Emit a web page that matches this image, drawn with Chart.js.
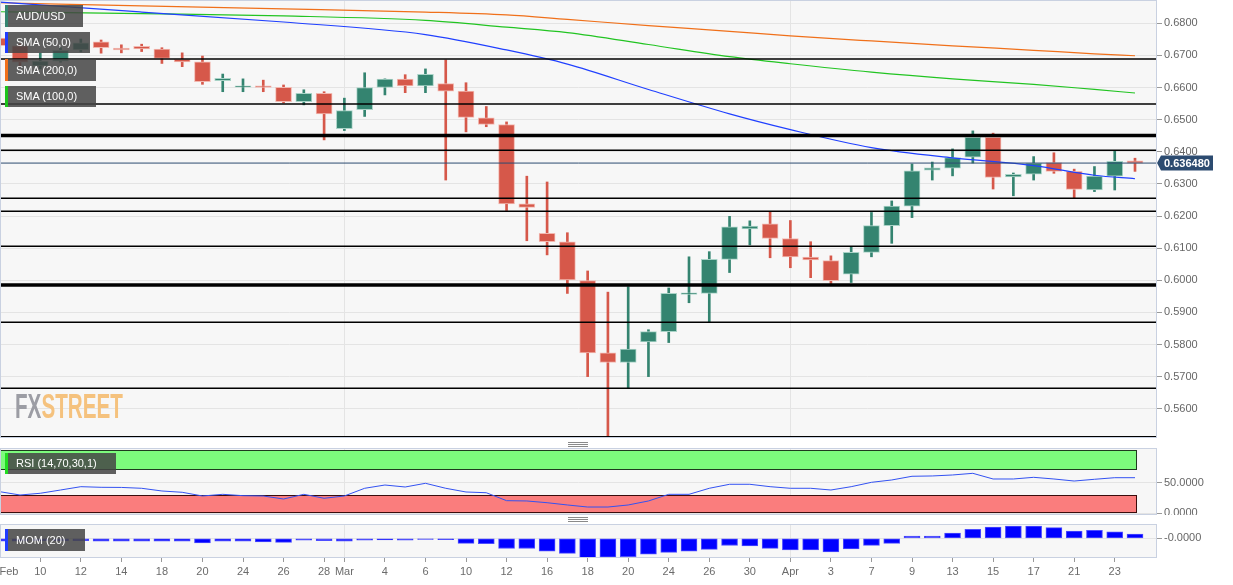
<!DOCTYPE html>
<html lang="en">
<head>
  <meta charset="UTF-8" />
  <title>AUD/USD daily</title>
  <script src="https://cdn.jsdelivr.net/npm/chart.js"></script>
  <style>
    body {
      margin: 0;
      width: 1233px;
      height: 585px;
      overflow: hidden;
      position: relative;
      background: #fff;
      font-family: 'Liberation Sans', Arial, sans-serif;
    }
    canvas { position: absolute; left: 0; }
    #main { top: 0; }
    #rsi { top: 448px; }
    #mom { top: 524px; }

    .chip {
      position: absolute;
      left: 5px;
      height: 21px;
      line-height: 21px;
      padding-left: 11px;
      box-sizing: border-box;
      background: rgba(68, 68, 68, 0.85);
      color: #fff;
      font-size: 11px;
      white-space: nowrap;
    }
    .chip i { position: absolute; left: 0; top: 0; bottom: 0; width: 3px; }

    .logo {
      position: absolute;
      left: 15px;
      top: 388px;
      font-size: 35px;
      line-height: 35px;
      font-weight: bold;
      transform: scaleX(0.59);
      transform-origin: left top;
      letter-spacing: 0;
    }
    .logo .fx { color: #9c9da4; }
    .logo .st { color: #f5c27e; }

    .grip {
      position: absolute;
      left: 568px;
      width: 20px;
      height: 3px;
      border-top: 1px solid #8a8a8a;
      border-bottom: 1px solid #8a8a8a;
    }
    .grip::after {
      content: '';
      position: absolute;
      left: 0; right: 0; top: 1px;
      border-top: 1px solid #8a8a8a;
    }
  </style>
</head>
<body>
  <canvas id="main" width="1233" height="438"></canvas>
  <canvas id="rsi" width="1233" height="67"></canvas>
  <canvas id="mom" width="1233" height="61"></canvas>

  <div class="chip" style="top:5px;width:78px;height:22px;line-height:22px"><i style="background:#348470"></i>AUD/USD</div>
  <div class="chip" style="top:32px;width:85px"><i style="background:#1f3cff"></i>SMA (50,0)</div>
  <div class="chip" style="top:59px;width:91px;height:22px;line-height:22px"><i style="background:#f0701a"></i>SMA (200,0)</div>
  <div class="chip" style="top:86px;width:91px"><i style="background:#1cc41c"></i>SMA (100,0)</div>
  <div class="chip" style="top:453px;width:111px"><i style="background:#22dd22"></i>RSI (14,70,30,1)</div>
  <div class="chip" style="top:529px;width:80px;height:22px;line-height:22px"><i style="background:#1f3cff"></i>MOM (20)</div>

  <div class="logo"><span class="fx">FX</span><span class="st">STREET</span></div>
  <div class="grip" style="top:442px"></div>
  <div class="grip" style="top:517px"></div>

  <script>
    // trading days shown
    const dates = [
      'Feb 6','Feb 7','Feb 10','Feb 11','Feb 12','Feb 13','Feb 14','Feb 17','Feb 18','Feb 19',
      'Feb 20','Feb 21','Feb 24','Feb 25','Feb 26','Feb 27','Feb 28','Mar 2','Mar 3','Mar 4',
      'Mar 5','Mar 6','Mar 9','Mar 10','Mar 11','Mar 12','Mar 13','Mar 16','Mar 17','Mar 18',
      'Mar 19','Mar 20','Mar 23','Mar 24','Mar 25','Mar 26','Mar 27','Mar 30','Mar 31','Apr 1',
      'Apr 2','Apr 3','Apr 6','Apr 7','Apr 8','Apr 9','Apr 10','Apr 13','Apr 14','Apr 15',
      'Apr 16','Apr 17','Apr 20','Apr 21','Apr 22','Apr 23','Apr 24'
    ];

    const open = [
      .6754,.6730,.6667,.6682,.6717,.6742,.6723,.6728,.6720,.6688,
      .6680,.6621,.6601,.6605,.6601,.6556,.6582,.6472,.6531,.6600,
      .6626,.6605,.6612,.6589,.6506,.6485,.6238,.6146,.6120,.5999,
      .5774,.5744,.5808,.5840,.5956,.5959,.6065,.6160,.6176,.6130,
      .6072,.6061,.6019,.6087,.6170,.6231,.6343,.6349,.6383,.6445,
      .6322,.6330,.6366,.6339,.6281,.6324,.6372
    ];
    const high = [
      .6764,.6736,.6707,.6724,.6751,.6748,.6733,.6735,.6724,.6708,
      .6698,.6642,.6627,.6623,.6608,.6593,.6587,.6567,.6646,.6627,
      .6640,.6658,.6686,.6615,.6541,.6493,.6324,.6306,.6148,.6029,
      .5963,.5980,.5846,.5976,.6073,.6089,.6199,.6185,.6214,.6186,
      .6120,.6076,.6104,.6211,.6247,.6362,.6368,.6409,.6465,.6458,
      .6334,.6385,.6397,.6346,.6354,.6404,.6380
    ];
    const low = [
      .6724,.6667,.6658,.6679,.6711,.6707,.6708,.6712,.6675,.6665,
      .6610,.6587,.6587,.6587,.6552,.6546,.6437,.6466,.6510,.6577,
      .6584,.6584,.6312,.6462,.6478,.6217,.6123,.6079,.5959,.5700,
      .5508,.5664,.5700,.5806,.5930,.5870,.6024,.6110,.6070,.6039,
      .6008,.5988,.5993,.6073,.6115,.6195,.6312,.6325,.6365,.6284,
      .6263,.6312,.6333,.6255,.6276,.6281,.6339
    ];
    const close = [
      .6730,.6679,.6682,.6716,.6739,.6724,.6717,.6720,.6691,.6680,
      .6618,.6629,.6605,.6600,.6556,.6582,.6518,.6528,.6600,.6626,
      .6605,.6641,.6589,.6507,.6485,.6238,.6227,.6120,.6001,.5774,
      .5744,.5786,.5840,.5959,.5961,.6065,.6166,.6169,.6130,.6073,
      .6063,.5999,.6087,.6170,.6231,.6341,.6350,.6382,.6445,.6320,
      .6330,.6365,.6339,.6283,.6324,.6370,.63648
    ];

    // moving averages, read at these day indexes
    const smaAt  = [0, 7, 14, 21, 25, 28, 32, 36, 39, 43, 47, 51, 54, 56];
    const sma50  = [.6866,.6835,.6804,.6765,.6717,.6673,.6594,.6518,.6469,.6413,.6381,.6357,.6327,.6316];
    const sma100 = [.6836,.6830,.6823,.6809,.6788,.6771,.6734,.6696,.6674,.6648,.6627,.6610,.6594,.6583];
    const sma200 = [.6864,.6854,.6845,.6835,.6826,.6812,.6793,.6775,.6761,.6745,.6730,.6716,.6705,.6699];

    const rsi = [
      35.1,29.7,32.5,37.8,43.2,42.2,42.0,40.6,36.2,34.1,
      28.1,30.8,28.6,28.1,23.2,30.8,24.4,28.1,40.6,45.9,
      42.7,48.7,40.6,34.6,33.4,20.5,20.0,17.2,13.5,10.2,
      10.2,13.5,20.0,30.8,30.8,40.6,47.1,47.1,43.2,40.6,
      40.6,37.8,43.2,50.3,54.1,60.1,60.6,62.2,64.9,55.7,
      55.7,58.4,55.7,52.4,55.2,57.8,57.8
    ];
    const rsiUpper = [70, 102.8];
    const rsiLower = [0, 30];

    const mom = [
      -0.013,-0.013,-0.011,-0.011,-0.011,-0.013,-0.013,-0.013,-0.014,-0.014,
      -0.022,-0.014,-0.014,-0.017,-0.019,-0.009,-0.011,-0.013,-0.009,-0.008,
      -0.009,-0.005,-0.006,-0.024,-0.025,-0.048,-0.048,-0.060,-0.071,-0.091,
      -0.089,-0.086,-0.075,-0.066,-0.060,-0.052,-0.034,-0.036,-0.047,-0.055,
      -0.055,-0.064,-0.050,-0.033,-0.024, 0.011, 0.011, 0.025, 0.042, 0.053,
       0.058, 0.058, 0.050, 0.034, 0.038, 0.030, 0.020
    ];

    // support / resistance lines
    const thinLevels  = [.6689, .6549, .6405, .6255, .6215, .6106, .5869, .5664, .5513];
    const thickLevels = [.6451, .5985];
    const lastPrice = 0.63648;

    const priceTicks = [0.56, 0.57, 0.58, 0.59, 0.60, 0.61, 0.62, 0.63, 0.64, 0.65, 0.66, 0.67, 0.68];
    const rsiTicks = [0, 50];
    const momTicks = [0];
    const momTickText = ['-0.0000'];
    const tickDates = ['Feb 6','Feb 10','Feb 12','Feb 14','Feb 18','Feb 20','Feb 24','Feb 26','Feb 28','Mar 2',
                       'Mar 4','Mar 6','Mar 10','Mar 12','Mar 16','Mar 18','Mar 20','Mar 24','Mar 26','Mar 30',
                       'Apr 1','Apr 3','Apr 7','Apr 9','Apr 13','Apr 15','Apr 17','Apr 21','Apr 23'];
    const tickText = ['Feb','10','12','14','18','20','24','26','28','Mar',
                      '4','6','10','12','16','18','20','24','26','30',
                      'Apr','3','7','9','13','15','17','21','23'];
    const monthStarts = ['Mar 2', 'Apr 1'];

    const X_MIN = 0.013, X_MAX = 57.085;
    const AXIS_W = 76;
    const UP = '#348470', DOWN = '#d6584a';
    const UP_EDGE = '#a9d3c7', DOWN_EDGE = '#f2b9b1';
    const GRID = '#e4e4e4', FRAME = '#c9d1e1';

    Chart.defaults.font.family = "'Liberation Sans', Arial, sans-serif";
    Chart.defaults.font.size = 11;
    Chart.defaults.color = '#666';

    const idx = d => dates.indexOf(d);
    const isUp = i => close[i] >= open[i];
    const monthIdx = monthStarts.map(idx);

    function xScale(withLabels) {
      return {
        type: 'linear',
        min: X_MIN,
        max: X_MAX,
        offset: false,
        afterBuildTicks: s => {
          s.ticks = (withLabels ? tickDates : monthStarts).map(d => ({ value: idx(d) }));
        },
        ticks: {
          display: withLabels,
          autoSkip: false,
          maxRotation: 0,
          color: '#6b6b6b',
          padding: 3,
          callback: (v, k) => k === 0 ? '      ' + tickText[k] : tickText[k]
        },
        grid: {
          offset: false,
          drawTicks: withLabels,
          tickLength: 4,
          tickColor: '#999',
          color: ctx => (ctx.tick && monthIdx.includes(ctx.tick.value)) ? GRID : 'rgba(0,0,0,0)'
        },
        border: { display: false },
        afterFit: s => {
          s.height = withLabels ? 27 : 0;
          s.paddingLeft = 0;
          s.paddingRight = 0;
        }
      };
    }

    function yScale(min, max, ticks, label) {
      return {
        position: 'right',
        min: min,
        max: max,
        afterBuildTicks: s => { s.ticks = ticks.map(v => ({ value: v })); },
        ticks: { padding: 2, color: '#666', callback: label },
        grid: { color: GRID, tickColor: '#999', tickLength: 5 },
        border: { display: false },
        afterFit: s => {
          s.width = AXIS_W;
          s.paddingTop = 0;
          s.paddingBottom = 0;
        }
      };
    }

    const panelPlugin = {
      id: 'panel',
      beforeDraw(chart) {
        const { ctx, chartArea: a } = chart;
        ctx.save();
        ctx.fillStyle = '#f7f7f7';
        ctx.fillRect(a.left, a.top, a.right - a.left, a.bottom - a.top);
        ctx.restore();
      },
      afterDraw(chart) {
        const { ctx, chartArea: a } = chart;
        ctx.save();
        ctx.strokeStyle = FRAME;
        ctx.lineWidth = 1;
        ctx.strokeRect(a.left + 0.5, a.top + 0.5, a.right - a.left - 1, a.bottom - a.top - 1);
        ctx.restore();
      }
    };

    const levelsPlugin = {
      id: 'levels',
      afterDatasetsDraw(chart) {
        const { ctx, chartArea: a, scales: { y } } = chart;
        ctx.save();
        ctx.strokeStyle = '#000';
        const line = (v, w) => {
          const py = y.getPixelForValue(v);
          ctx.lineWidth = w;
          ctx.beginPath();
          ctx.moveTo(a.left, py);
          ctx.lineTo(a.right, py);
          ctx.stroke();
        };
        thinLevels.forEach(v => line(v, 1.5));
        thickLevels.forEach(v => line(v, 3.5));
        ctx.strokeStyle = '#2c4b70';
        line(lastPrice, 1);
        ctx.restore();
      },
      afterDraw(chart) {
        const { ctx, chartArea: a, scales: { y } } = chart;
        const py = Math.round(y.getPixelForValue(lastPrice));
        ctx.save();
        ctx.fillStyle = '#2c4b70';
        ctx.beginPath();
        ctx.moveTo(a.right, py);
        ctx.lineTo(a.right + 4, py - 7.5);
        ctx.lineTo(a.right + 56, py - 7.5);
        ctx.lineTo(a.right + 56, py + 7.5);
        ctx.lineTo(a.right + 4, py + 7.5);
        ctx.closePath();
        ctx.fill();
        ctx.fillStyle = '#fff';
        ctx.font = "bold 11px 'Liberation Sans', Arial, sans-serif";
        ctx.textBaseline = 'middle';
        ctx.fillText(lastPrice.toFixed(6), a.right + 7, py + 0.5);
        ctx.restore();
      }
    };

    const bandsPlugin = {
      id: 'bands',
      beforeDatasetsDraw(chart) {
        const { ctx, chartArea: a, scales: { x, y } } = chart;
        const right = x.getPixelForValue(dates.length - 1) + 2;
        ctx.save();
        [[rsiUpper, '#7dfb7d', '#1f3a1f'], [rsiLower, '#fa7d7d', '#3a0c0c']].forEach(([b, fill, edge]) => {
          const top = Math.round(y.getPixelForValue(b[1]));
          const bot = Math.round(y.getPixelForValue(b[0]));
          ctx.fillStyle = fill;
          ctx.fillRect(a.left, top, right - a.left, bot - top);
          ctx.strokeStyle = edge;
          ctx.lineWidth = 1;
          ctx.strokeRect(a.left + 0.5, top + 0.5, right - a.left - 1, bot - top - 1);
        });
        ctx.restore();
      }
    };

    const common = {
      responsive: false,
      animation: false,
      events: [],
      layout: { padding: 0, autoPadding: false },
      plugins: { legend: { display: false }, tooltip: { enabled: false } }
    };

    // price panel
    new Chart(document.getElementById('main'), {
      type: 'bar',
      data: {
        datasets: [
          { type: 'line', data: smaAt.map((d, k) => ({ x: d, y: sma50[k] })), borderColor: '#2040ff',
            borderWidth: 1.2, pointRadius: 0, cubicInterpolationMode: 'monotone', order: 0 },
          { type: 'line', data: smaAt.map((d, k) => ({ x: d, y: sma100[k] })), borderColor: '#22c422',
            borderWidth: 1.2, pointRadius: 0, cubicInterpolationMode: 'monotone', order: 0 },
          { type: 'line', data: smaAt.map((d, k) => ({ x: d, y: sma200[k] })), borderColor: '#f0701a',
            borderWidth: 1.2, pointRadius: 0, cubicInterpolationMode: 'monotone', order: 0 },
          {
            data: dates.map((d, i) => ({ x: i, y: [open[i], close[i]] })),
            backgroundColor: dates.map((d, i) => isUp(i) ? UP : DOWN),
            borderColor: dates.map((d, i) => isUp(i) ? UP_EDGE : DOWN_EDGE),
            borderWidth: 1,
            borderSkipped: false,
            barThickness: 16,
            grouped: false,
            order: 1
          },
          {
            data: dates.map((d, i) => ({ x: i, y: [low[i], high[i]] })),
            backgroundColor: dates.map((d, i) => isUp(i) ? UP : DOWN),
            borderWidth: 0,
            barThickness: 2,
            grouped: false,
            order: 2
          }
        ]
      },
      options: {
        ...common,
        scales: {
          x: xScale(false),
          y: yScale(0.55089, 0.687254, priceTicks, v => v.toFixed(4))
        }
      },
      plugins: [panelPlugin, levelsPlugin]
    });

    // RSI panel
    new Chart(document.getElementById('rsi'), {
      type: 'line',
      data: {
        datasets: [{
          data: dates.map((d, i) => ({ x: i, y: rsi[i] })),
          borderColor: '#3352f2',
          borderWidth: 1,
          pointRadius: 0,
          tension: 0
        }]
      },
      options: {
        ...common,
        scales: {
          x: xScale(false),
          y: yScale(-2.76, 106, rsiTicks, v => v.toFixed(4))
        }
      },
      plugins: [panelPlugin, bandsPlugin]
    });

    // momentum panel
    new Chart(document.getElementById('mom'), {
      type: 'bar',
      data: {
        datasets: [{
          data: dates.map((d, i) => ({ x: i, y: mom[i] })),
          backgroundColor: '#0000ff',
          borderColor: '#4d4dff',
          borderWidth: 1,
          borderSkipped: false,
          barThickness: 16,
          grouped: false
        }]
      },
      options: {
        ...common,
        scales: {
          x: xScale(true),
          y: yScale(-0.0926, 0.0672, momTicks, (v, k) => momTickText[k])
        }
      },
      plugins: [panelPlugin]
    });
  </script>
</body>
</html>
